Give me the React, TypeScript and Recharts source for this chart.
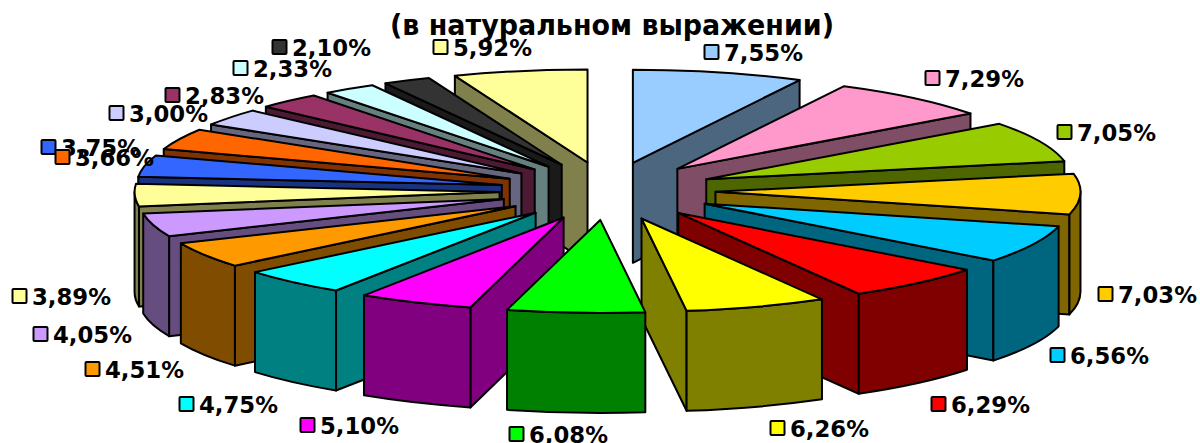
import React from "react";
import { PieChart, Pie } from "recharts";

const SHARES = [7.55, 7.29, 7.05, 7.03, 6.56, 6.29, 6.26, 6.08, 5.1, 4.75, 4.51, 4.05, 3.89, 3.75, 3.66, 3.0, 2.83, 2.33, 2.1, 5.92];
const COLORS = [
  "#99CCFF", "#FF99CC", "#99CC00", "#FFCC00", "#00CCFF", "#FF0000", "#FFFF00", "#00FF00", "#FF00FF", "#00FFFF",
  "#FF9900", "#CC99FF", "#FFFF99", "#3366FF", "#FF6600", "#CCCCFF", "#993366", "#CCFFFF", "#333333", "#FFFF99",
];
// marker left edge, marker middle
const LABEL_X = [704, 925, 1057, 1098, 1050, 931, 770, 509, 300, 179, 85, 33, 12, 41, 55, 109, 165, 233, 272, 433];
const LABEL_Y = [52, 78, 132, 294, 355, 404, 428, 434, 425, 404, 369, 334, 296, 147, 157, 113, 95, 68, 47, 47];

const tableCw = SHARES.map((value, i) => ({
  name: value.toFixed(2).replace(".", ",") + "%",
  value,
  fill: COLORS[i],
  labelX: LABEL_X[i],
  labelY: LABEL_Y[i],
}));
// same slices walked the other way, so the left half paints back to front
const tableCcw = [...tableCw].reverse();

const CX = 607.5;
const CY = 191;
const RADIUS = 365;
const SQUASH = 93 / 365;
const EXPLODE_X = 108;
const EXPLODE_Y = 29;
const DEPTH = 100;

const rad = (d: number) => (d * Math.PI) / 180;
const darken = (hex: string) => {
  const n = parseInt(hex.slice(1), 16);
  const half = (v: number) => Math.round(v / 2).toString(16).padStart(2, "0");
  return "#" + half((n >> 16) & 255) + half((n >> 8) & 255) + half(n & 255);
};

function Slice3D(props: any, rightHalf: boolean) {
  const { cx, cy, outerRadius, startAngle, endAngle, fill } = props;
  let a = 90 - startAngle;
  let b = 90 - endAngle;
  let lo = Math.min(a, b);
  let hi = Math.max(a, b);
  if (lo < 0) {
    lo += 360;
    hi += 360;
  }
  const mid = (lo + hi) / 2;
  if (mid < 180 !== rightHalf) return <g />;

  const ry = outerRadius * SQUASH;
  const ax = cx + EXPLODE_X * Math.sin(rad(mid));
  const ay = cy - EXPLODE_Y * Math.cos(rad(mid));
  const px = (t: number) => ax + outerRadius * Math.sin(rad(t));
  const py = (t: number) => ay - ry * Math.cos(rad(t));
  const wall = darken(fill);
  const edge = { stroke: "#000", strokeWidth: 2, strokeLinejoin: "round" as const };

  const radial = (t: number) =>
    `M${ax},${ay} L${px(t)},${py(t)} L${px(t)},${py(t) + DEPTH} L${ax},${ay + DEPTH} Z`;

  const rimLo = Math.max(lo, 90);
  const rimHi = Math.min(hi, 270);

  return (
    <g>
      {Math.sin(rad(lo)) < -1e-6 && <path d={radial(lo)} fill={wall} {...edge} />}
      {Math.sin(rad(hi)) > 1e-6 && <path d={radial(hi)} fill={wall} {...edge} />}
      {rimLo < rimHi && (
        <path
          d={`M${px(rimLo)},${py(rimLo)} A${outerRadius},${ry} 0 0 1 ${px(rimHi)},${py(rimHi)} L${px(rimHi)},${py(rimHi) + DEPTH} A${outerRadius},${ry} 0 0 0 ${px(rimLo)},${py(rimLo) + DEPTH} Z`}
          fill={wall}
          {...edge}
        />
      )}
      <path
        d={`M${ax},${ay} L${px(lo)},${py(lo)} A${outerRadius},${ry} 0 0 1 ${px(hi)},${py(hi)} Z`}
        fill={fill}
        {...edge}
      />
    </g>
  );
}

function SliceLabel(props: any) {
  const { labelX, labelY, fill, name } = props.payload ?? props;
  return (
    <g>
      <rect x={labelX + 0.5} y={labelY - 7} width={14} height={14} rx={1} fill={fill} stroke="#000" strokeWidth={2} />
      <text
        x={labelX + 20}
        y={labelY + 8.5}
        fontFamily="DejaVu Sans"
        fontWeight="bold"
        fontSize={22.5}
        fill="#000"
        textLength={79}
        lengthAdjust="spacingAndGlyphs"
      >
        {name}
      </text>
    </g>
  );
}

export default function App() {
  return (
    <div style={{ position: "absolute", left: 0, top: 0, width: 1200, height: 443, background: "#fff" }}>
      <PieChart width={1200} height={443} margin={{ top: 0, right: 0, bottom: 0, left: 0 }}>
        <text
          x={390}
          y={35}
          fontFamily="DejaVu Sans"
          fontWeight="bold"
          fontSize={29}
          fill="#000"
          textLength={444}
          lengthAdjust="spacingAndGlyphs"
        >
          (в натуральном выражении)
        </text>
        <Pie
          data={tableCw}
          dataKey="value"
          cx={CX}
          cy={CY}
          outerRadius={RADIUS}
          startAngle={90}
          endAngle={-270}
          isAnimationActive={false}
          shape={(p: any) => Slice3D(p, true)}
        />
        <Pie
          data={tableCcw}
          dataKey="value"
          cx={CX}
          cy={CY}
          outerRadius={RADIUS}
          startAngle={90}
          endAngle={450}
          isAnimationActive={false}
          shape={(p: any) => Slice3D(p, false)}
        />
        <Pie
          data={tableCw}
          dataKey="value"
          cx={CX}
          cy={CY}
          outerRadius={RADIUS}
          startAngle={90}
          endAngle={-270}
          isAnimationActive={false}
          shape={() => <g />}
          labelLine={false}
          label={SliceLabel}
        />
      </PieChart>
    </div>
  );
}
